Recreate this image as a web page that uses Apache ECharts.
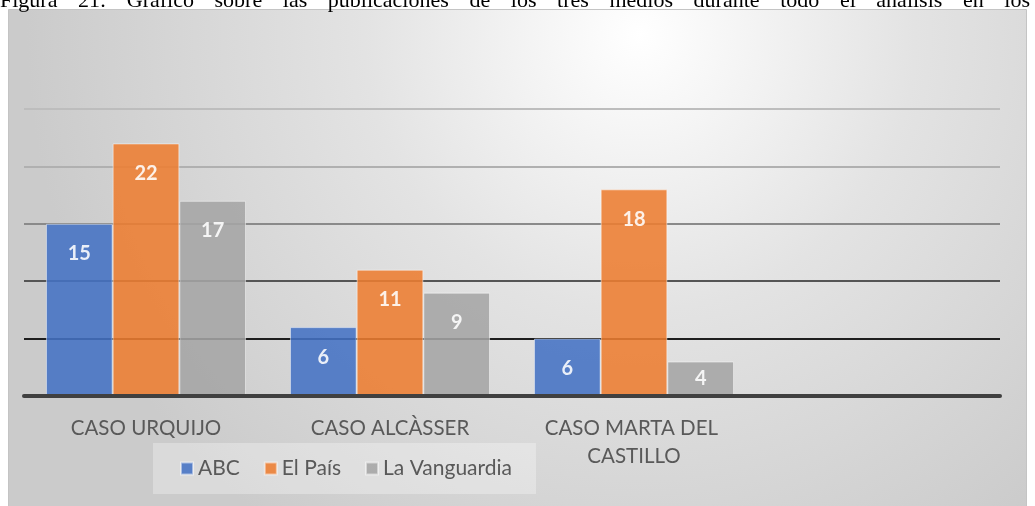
<!DOCTYPE html>
<html>
<head>
<meta charset="utf-8">
<script src="https://cdn.jsdelivr.net/npm/echarts@6/dist/echarts.min.js"></script>
<style>
  html, body { margin: 0; padding: 0; background: #ffffff; }
  #wrap { position: relative; width: 1035px; height: 506px; overflow: hidden; }
  #chart { position: absolute; left: 0; top: 0; width: 1035px; height: 506px; }
  #caption {
    position: absolute; left: 0; top: -13px; width: 1030px;
    font-family: "Liberation Serif", "Times New Roman", serif; font-size: 22px;
    color: #000; white-space: nowrap; text-align: justify; text-align-last: justify;
    z-index: 2;
  }
</style>
</head>
<body>
<div id="wrap">
  <div id="chart"></div>
  <div id="caption">Figura 21: Gráfico sobre las publicaciones de los tres medios durante todo el análisis en los</div>
</div>
<script>
// ---- data ----
const categories = ["CASO URQUIJO", "CASO ALCÀSSER", "CASO MARTA DEL CASTILLO", ""];
const seriesNames = ["ABC", "El País", "La Vanguardia"];
// bar heights as drawn
const abcValues = [15, 6, 5, null];
const elPaisValues = [22, 11, 18, null];
const vanguardiaValues = [17, 9, 3, null];
// data labels as printed on the bars
const abcLabels = ["15", "6", "6", ""];
const elPaisLabels = ["22", "11", "18", ""];
const vanguardiaLabels = ["17", "9", "4", ""];
const yTicks = [0, 5, 10, 15, 20, 25];

const colors = ["#4472C4", "#ED7D31", "#A5A5A5"];
const font = "Lato, 'Open Sans', sans-serif";

function makeSeries(name, values, labels, color) {
  return {
    name: name,
    type: "bar",
    barGap: "0%",
    barCategoryGap: "18%",
    itemStyle: { color: color, opacity: 0.88, borderColor: "rgba(255,255,255,0.55)", borderWidth: 1 },
    data: values.map(function (v, i) {
      const small = v !== null && v < 4;
      return {
        value: v,
        label: {
          show: v !== null,
          position: small ? "inside" : "insideTop",
          distance: 20,
          formatter: function () { return labels[i]; },
          color: "#ffffff",
          fontFamily: font,
          fontWeight: "bold",
          fontSize: 20
        }
      };
    })
  };
}

const chart = echarts.init(document.getElementById("chart"), null, { renderer: "canvas" });
chart.setOption({
  animation: false,
  backgroundColor: "transparent",
  graphic: [{
    type: "rect",
    z: -10,
    silent: true,
    shape: { x: 8.5, y: 9.5, width: 1018, height: 510 },
    style: {
      fill: {
        type: "radial", x: 0.62, y: 0.05, r: 1.2,
        colorStops: [
          { offset: 0, color: "#ffffff" },
          { offset: 0.45, color: "#e3e3e3" },
          { offset: 1, color: "#cbcbcb" }
        ]
      },
      stroke: "#c4c4c4",
      lineWidth: 1
    }
  }],
  color: colors,
  grid: { left: 24, right: 35, top: 109, bottom: 110, containLabel: false },
  legend: {
    data: seriesNames,
    left: 153,
    top: 443,
    icon: "rect",
    itemWidth: 12,
    itemHeight: 12,
    itemGap: 24,
    padding: [15, 24, 15, 27],
    backgroundColor: "rgba(255,255,255,0.3)",
    textStyle: { color: "#595959", fontFamily: font, fontSize: 21 }
  },
  xAxis: {
    type: "category",
    data: categories,
    axisTick: { show: false },
    axisLine: { show: true, lineStyle: { color: "#404040", width: 4 } },
    axisLabel: {
      color: "#595959", fontFamily: font, fontSize: 20.5, margin: 18,
      lineHeight: 28, width: 210, overflow: "break", interval: 0
    },
    z: 5
  },
  yAxis: {
    type: "value",
    min: yTicks[0],
    max: yTicks[yTicks.length - 1],
    interval: 5,
    axisLabel: { show: false },
    axisLine: { show: false },
    axisTick: { show: false },
    splitLine: {
      show: true,
      lineStyle: { width: 2, color: ["#404040", "#1e1e1e", "#555555", "#8a8a8a", "#b0b0b0", "#bdbdbd"] }
    }
  },
  series: [
    makeSeries(seriesNames[0], abcValues, abcLabels, colors[0]),
    makeSeries(seriesNames[1], elPaisValues, elPaisLabels, colors[1]),
    makeSeries(seriesNames[2], vanguardiaValues, vanguardiaLabels, colors[2])
  ]
});
</script>
</body>
</html>
